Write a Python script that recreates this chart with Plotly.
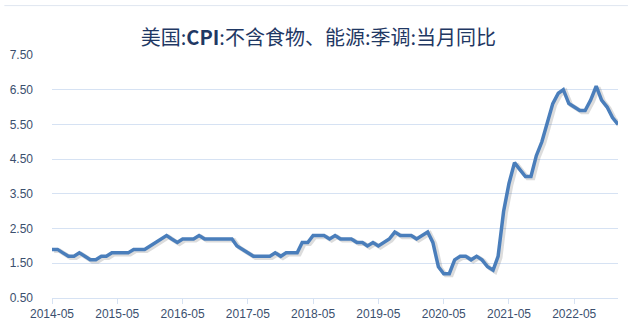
import pandas as pd
import plotly.graph_objects as go

# Months from 2014-05 to 2023-01
months = pd.date_range("2014-05-01", "2023-01-01", freq="MS")

core_cpi_yoy = [
    1.9, 1.9, 1.8, 1.7, 1.7, 1.8, 1.7, 1.6, 1.6, 1.7, 1.7, 1.8,   # 2014-05 .. 2015-04
    1.8, 1.8, 1.8, 1.9, 1.9, 1.9, 2.0, 2.1, 2.2, 2.3, 2.2, 2.1,   # 2015-05 .. 2016-04
    2.2, 2.2, 2.2, 2.3, 2.2, 2.2, 2.2, 2.2, 2.2, 2.2, 2.0, 1.9,   # 2016-05 .. 2017-04
    1.8, 1.7, 1.7, 1.7, 1.7, 1.8, 1.7, 1.8, 1.8, 1.8, 2.1, 2.1,   # 2017-05 .. 2018-04
    2.3, 2.3, 2.3, 2.2, 2.3, 2.2, 2.2, 2.2, 2.1, 2.1, 2.0, 2.1,   # 2018-05 .. 2019-04
    2.0, 2.1, 2.2, 2.4, 2.3, 2.3, 2.3, 2.2, 2.3, 2.4, 2.1, 1.4,   # 2019-05 .. 2020-04
    1.2, 1.2, 1.6, 1.7, 1.7, 1.6, 1.7, 1.6, 1.4, 1.3, 1.7, 3.0,   # 2020-05 .. 2021-04
    3.8, 4.4, 4.2, 4.0, 4.0, 4.6, 5.0, 5.5, 6.1, 6.4, 6.5, 6.1,   # 2021-05 .. 2022-04
    6.0, 5.9, 5.9, 6.2, 6.6, 6.2, 6.0, 5.7, 5.5,                  # 2022-05 .. 2023-01
]

y_ticks = [0.5, 1.5, 2.5, 3.5, 4.5, 5.5, 6.5, 7.5]
y_tick_labels = ["0.50", "1.50", "2.50", "3.50", "4.50", "5.50", "6.50", "7.50"]
x_tick_dates = pd.date_range("2014-05-01", "2022-05-01", freq="12MS")
x_tick_labels = [d.strftime("%Y-%m") for d in x_tick_dates]

title_text = "美国:<b>CPI</b>:不含食物、能源:季调:当月同比"

grid_color = "#d6e2f3"
label_color = "#3b4f6e"
line_color = "#4a7ebb"

fig = go.Figure()
# soft shadow beneath the line
fig.add_trace(go.Scatter(
    x=[d + pd.Timedelta(days=12) for d in months], y=[v - 0.04 for v in core_cpi_yoy],
    mode="lines", line=dict(color="rgba(60,60,60,0.18)", width=4.5),
    hoverinfo="skip", showlegend=False,
))
fig.add_trace(go.Scatter(
    x=months, y=core_cpi_yoy, mode="lines",
    line=dict(color=line_color, width=3.5),
    showlegend=False,
))

fig.update_layout(
    width=628, height=331,
    margin=dict(l=48, r=10, t=55, b=30),
    paper_bgcolor="white", plot_bgcolor="white",
    title=dict(
        text=title_text, x=0.507, xref="container", xanchor="center",
        y=1 - 38 / 331, yref="container", yanchor="middle",
        font=dict(family="Noto Sans CJK SC", size=20, color="#1f3864"),
    ),
    xaxis=dict(
        type="date",
        range=[months[0], months[-1]],
        tickvals=list(x_tick_dates), ticktext=x_tick_labels,
        showgrid=False, zeroline=False,
        showline=True, linecolor=grid_color, linewidth=1,
        ticks="outside", ticklen=5, tickcolor=grid_color,
        tickfont=dict(family="Liberation Sans", size=12, color=label_color),
    ),
    yaxis=dict(
        range=[0.5, 7.5],
        tickvals=y_ticks, ticktext=y_tick_labels,
        showgrid=True, gridcolor=grid_color, gridwidth=1,
        zeroline=False, showline=False,
        ticklabelstandoff=18,
        tickfont=dict(family="Liberation Sans", size=12, color=label_color),
    ),
)

# faint cell border at the very top of the picture
fig.add_shape(type="line", xref="paper", yref="paper",
              x0=-48 / 570, x1=1 + 10 / 570, y0=1 + 50 / 246, y1=1 + 50 / 246,
              line=dict(color="#dfe6f0", width=1))

fig.write_html("out.html")
